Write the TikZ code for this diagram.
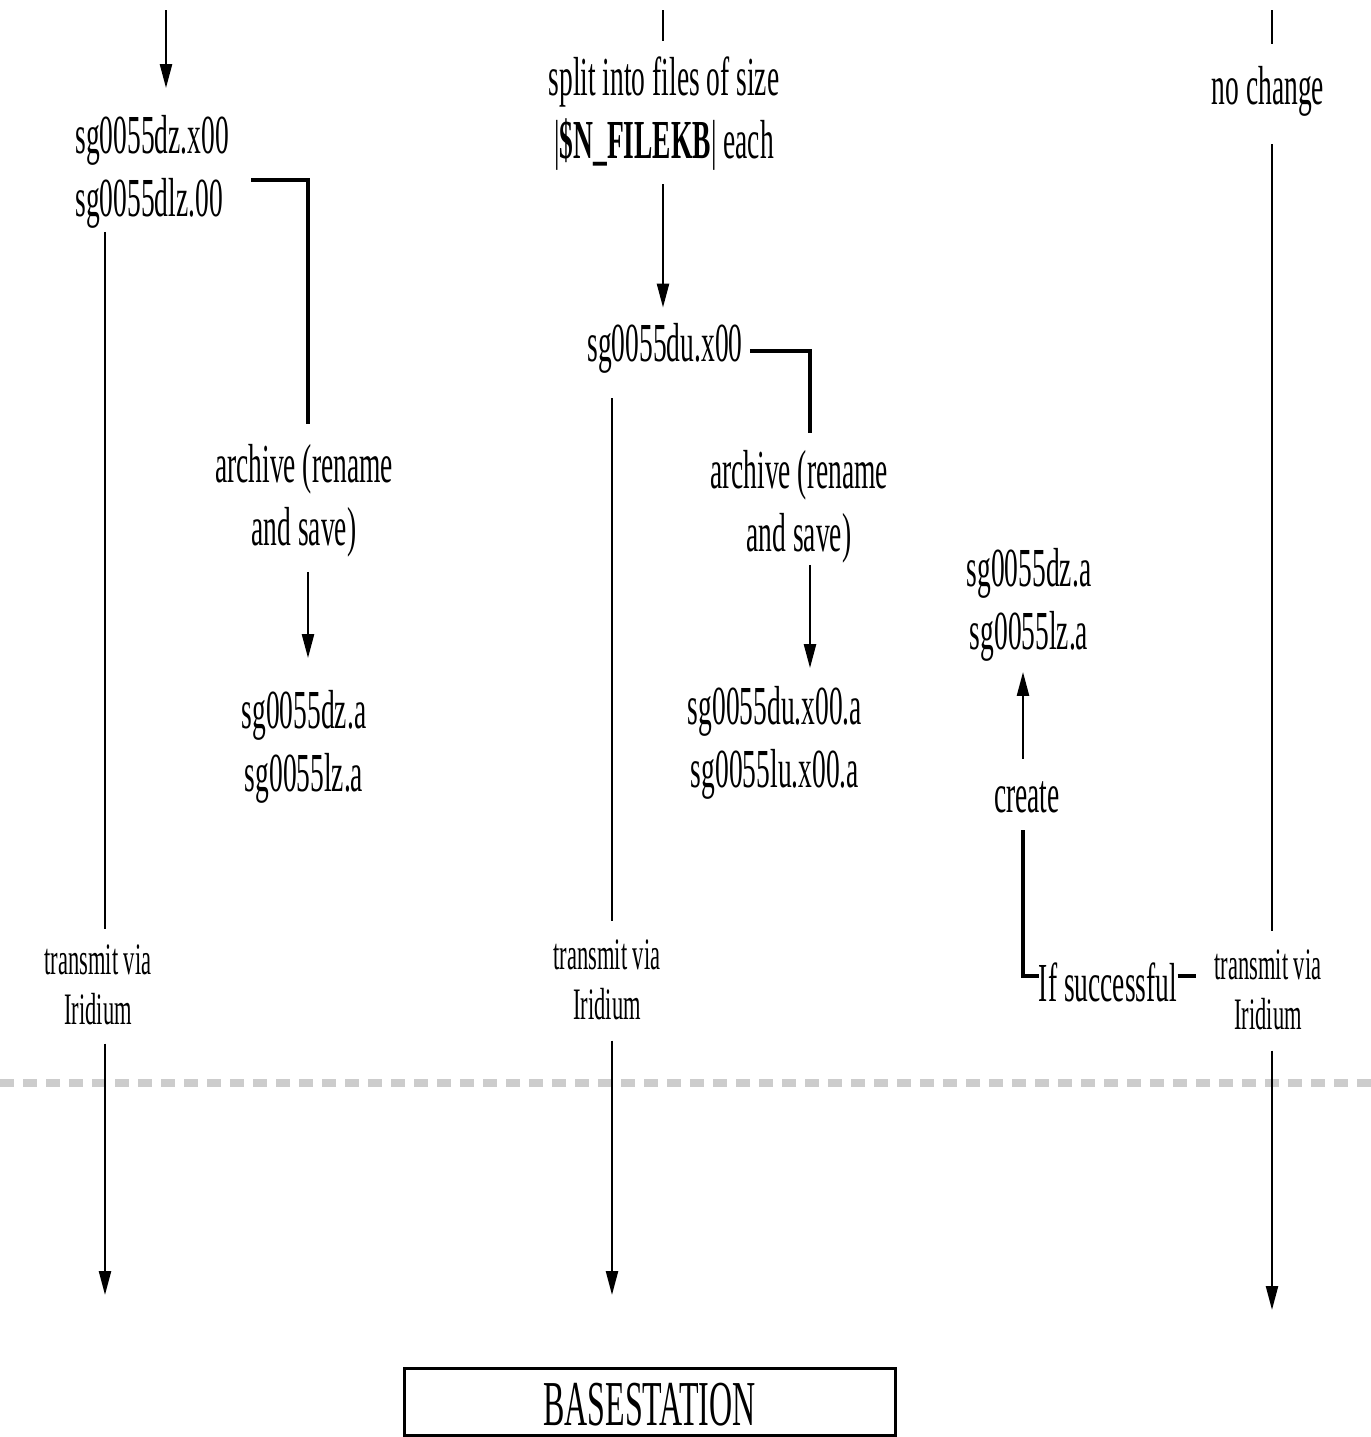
\documentclass[tikz,border=0pt]{standalone}
\usepackage{fontspec}
\setmainfont{Liberation Serif}[FakeStretch=0.5]
\usetikzlibrary{arrows.meta}

\tikzset{
  lbl/.style={font=\fontsize{27.5}{31.5}\selectfont, align=center, inner sep=0pt},
  sml/.style={font=\fontsize{22.5}{25}\selectfont, align=center, inner sep=0pt},
  link/.style={line width=1.2pt},
  flow/.style={line width=1.2pt, -{Triangle[length=12pt,width=6pt]}},
  brk/.style={line width=1.8pt},
  divider/.style={line width=4pt, draw=black!20, dash pattern=on 7pt off 4.5pt},
}

\begin{document}
\begin{tikzpicture}[x=0.5pt,y=-0.5pt]
\useasboundingbox (0,0) rectangle (1371,1437);

% column lines
\coordinate (xa) at (105,0);  \coordinate (xb) at (308,0);
\coordinate (xc) at (612,0);  \coordinate (xd) at (810,0);
\coordinate (xe) at (1023,0); \coordinate (xf) at (1272,0);

% glider side
\draw[divider] (0,1083) -- (1371,1083);

% left: compressed files
\coordinate (in1) at (166,10);
\node[lbl,align=left,anchor=west] (dz) at (75,172) {sg0055dz.x00\\sg0055dlz.00};
\node[lbl] (arc1) at (304,501) {archive (rename\\and save)};
\node[lbl] (out1) at (304,747) {sg0055dz.a\\sg0055lz.a};
\node[sml] (tx1) at (98,985) {transmit via\\Iridium};
\coordinate (bs1) at (105,1295);
\draw[flow, shorten >=13.5pt] (in1) -- (in1 |- dz.north);
\draw[brk, shorten >=10pt] ([shift={(22,8)}]dz.east) -| (arc1.north -| xb);
\draw[flow, shorten <=7pt, shorten >=16pt] (arc1.south -| xb) -- (out1.north -| xb);
\draw[link, shorten <=1.5pt, shorten >=7.5pt] (dz.south -| xa) -- (tx1.north -| xa);
\draw[flow, shorten <=9pt] (tx1.south -| xa) -- (bs1);

% middle: split files
\coordinate (in2) at (663,10);
\node[lbl] (split) at (664,114) {split into files of size\\|\textbf{\$N\_FILEKB}| each};
\node[lbl] (du) at (665,348) {sg0055du.x00};
\node[lbl] (arc2) at (799,507) {archive (rename\\and save)};
\node[lbl] (out2) at (775,743) {sg0055du.x00.a\\sg0055lu.x00.a};
\node[sml] (tx2) at (607,980) {transmit via\\Iridium};
\coordinate (bs2) at (612,1295);
\draw[link, shorten >=8pt] (in2) -- (in2 |- split.north);
\draw[flow, shorten <=6.5pt, shorten >=7.5pt] (split.south -| in2) -- (du.north -| in2);
\draw[brk, shorten >=8.5pt] ([shift={(7,3)}]du.east) -| (arc2.north -| xd);
\draw[flow, shorten <=0.5pt, shorten >=9pt] (arc2.south -| xd) -- (out2.north -| xd);
\draw[link, shorten <=12.5pt, shorten >=9pt] (du.south -| xc) -- (tx2.north -| xc);
\draw[flow, shorten <=10pt] (tx2.south -| xc) -- (bs2);

% after transmission
\node[lbl] (out3) at (1029,605) {sg0055dz.a\\sg0055lz.a};
\node[lbl] (create) at (1027,797) {create};
\node[lbl] (succ) at (1108,982) {If successful};
\draw[brk, shorten >=8.5pt] ([yshift=3]succ.west) -| (create.south -| xe);
\draw[flow, shorten <=11pt, shorten >=5pt] (create.north -| xe) -- (out3.south -| xe);

% right: unchanged files
\coordinate (in3) at (1272,10);
\node[lbl] (same) at (1268,91) {no change};
\node[sml] (tx3) at (1268,990) {transmit via\\Iridium};
\coordinate (bs3) at (1272,1310);
\draw[link, shorten >=11pt] (in3) -- (in3 |- same.north);
\draw[link, shorten <=14pt, shorten >=9pt] (same.south -| xf) -- (tx3.north -| xf);
\draw[flow, shorten <=10pt] (tx3.south -| xf) -- (bs3);
\draw[brk, shorten >=9pt] ([yshift=3]succ.east) -- ([yshift=3]tx3.west |- succ.east);

% receiving end
\node[draw, line width=1.5pt, minimum width=245.5pt, minimum height=33.5pt,
      text height=24pt, text depth=0pt,
      font=\fontsize{32}{36}\selectfont] (base) at (649.5,1401.5) {BASESTATION};
\end{tikzpicture}
\end{document}
